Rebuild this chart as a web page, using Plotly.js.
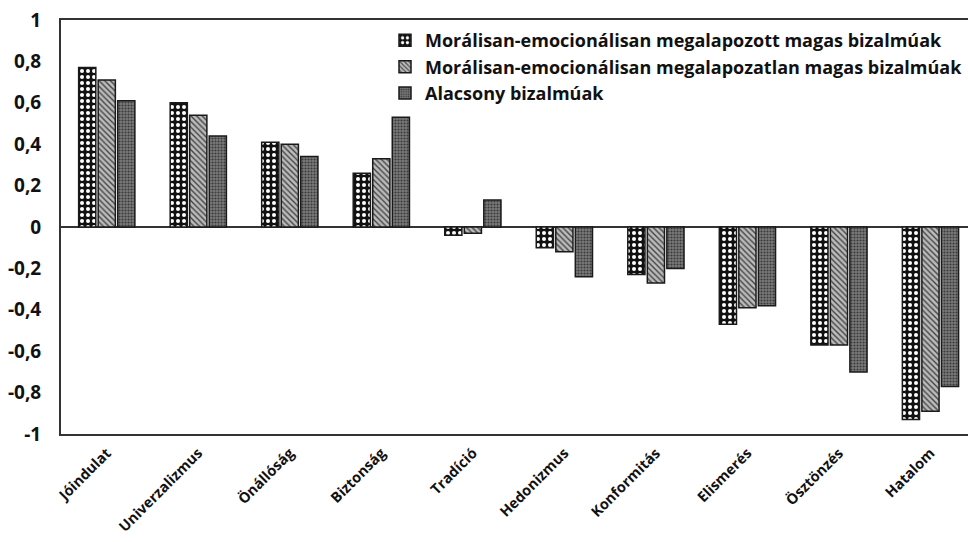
<!DOCTYPE html>
<html>
<head>
<meta charset="utf-8">
<script src="https://cdn.plot.ly/plotly-3.0.1.min.js"></script>
<style>html,body{margin:0;padding:0;background:#fff;overflow:hidden}#chart{width:968px;height:542px}</style>
</head>
<body>
<div id="chart"></div>
<script>
var categories = ["Jóindulat","Univerzalizmus","Önállóság","Biztonság","Tradíció","Hedonizmus","Konformitás","Elismerés","Ösztönzés","Hatalom"];
var seriesNames = ["Morálisan-emocionálisan megalapozott magas bizalmúak","Morálisan-emocionálisan megalapozatlan magas bizalmúak","Alacsony bizalmúak"];
var moralGrounded = [0.77, 0.60, 0.41, 0.26, -0.04, -0.10, -0.23, -0.47, -0.57, -0.93];
var moralUngrounded = [0.71, 0.54, 0.40, 0.33, -0.03, -0.12, -0.27, -0.39, -0.57, -0.89];
var lowTrust = [0.61, 0.44, 0.34, 0.53, 0.13, -0.24, -0.20, -0.38, -0.70, -0.77];
var yTickVals = [1, 0.8, 0.6, 0.4, 0.2, 0, -0.2, -0.4, -0.6, -0.8, -1];
var yTickText = ["1","0,8","0,6","0,4","0,2","0","-0,2","-0,4","-0,6","-0,8","-1"];

var FONT = "'Open Sans', sans-serif";
function bar(name, vals, pattern) {
  return {
    type: "bar", name: name, x: categories, y: vals,
    marker: {color: pattern.bg, line: {color: "#1a1a1a", width: 1.5}, pattern: pattern.p}
  };
}
var data = [
  bar(seriesNames[0], moralGrounded, {bg: "#111", p: {shape: ".", fgcolor: "#fff", bgcolor: "#111", size: 6, solidity: 0.35}}),
  bar(seriesNames[1], moralUngrounded, {bg: "#999", p: {shape: "\\", fgcolor: "#444", bgcolor: "#bbb", size: 4, solidity: 0.35}}),
  bar(seriesNames[2], lowTrust, {bg: "#666", p: {shape: ".", fgcolor: "#3a3a3a", bgcolor: "#7a7a7a", size: 3, solidity: 0.4}})
];
var layout = {
  width: 968, height: 542,
  margin: {l: 61, r: 0, t: 20, b: 108, autoexpand: false},
  paper_bgcolor: "#fff", plot_bgcolor: "#fff",
  barmode: "group", bargap: 0.36, bargroupgap: 0.12,
  font: {family: FONT, color: "#111"},
  showlegend: true,
  legend: {x: 1, y: 0.995, xanchor: "right", yanchor: "top", bgcolor: "rgba(0,0,0,0)",
    font: {family: FONT, size: 18, weight: 700, color: "#111"}, tracegroupgap: 0, itemwidth: 30},
  xaxis: {
    range: [-0.5, 9.41], showline: true, mirror: true, linecolor: "#333", linewidth: 2, automargin: false,
    tickangle: -45, ticks: "outside", ticklen: 3, tickcolor: "rgba(0,0,0,0)", showgrid: false,
    tickfont: {family: FONT, size: 14.5, weight: 700, color: "#111"}
  },
  yaxis: {
    range: [-1, 1], showline: true, linecolor: "#333", linewidth: 2, showgrid: false, automargin: false,
    zeroline: true, zerolinecolor: "#333", zerolinewidth: 1.5,
    tickvals: yTickVals, ticktext: yTickText, ticks: "", ticklabelstandoff: 14,
    tickfont: {family: FONT, size: 19, weight: 700, color: "#111"}
  }
};
Plotly.newPlot("chart", data, layout, {staticPlot: true, displayModeBar: false});
</script>
</body>
</html>
